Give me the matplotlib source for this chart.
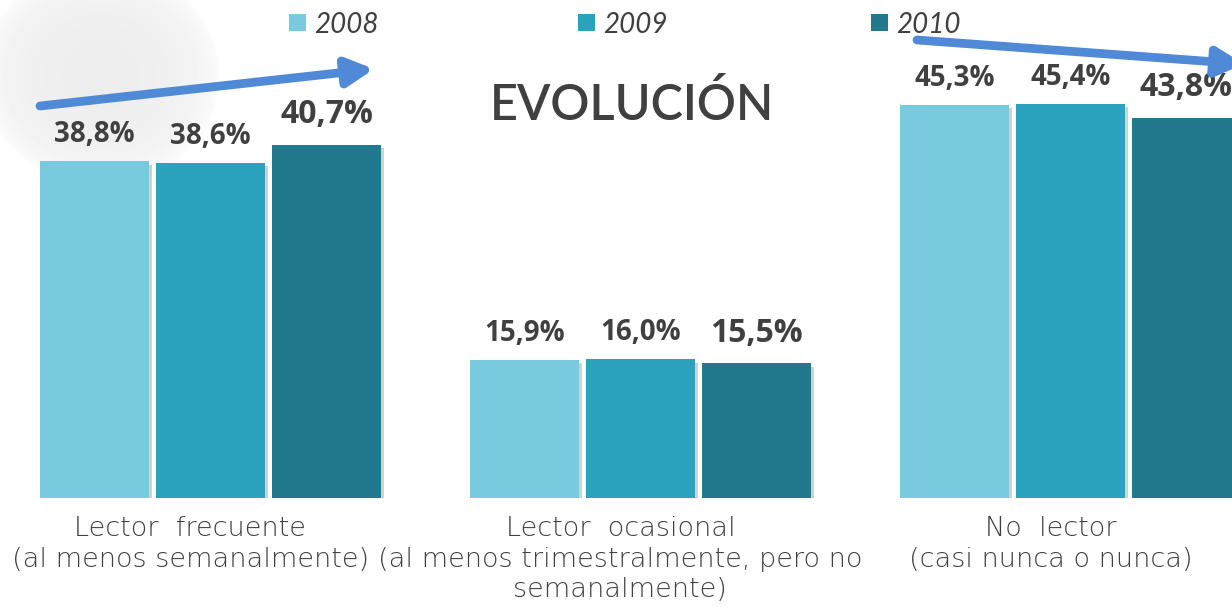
import numpy as np
import matplotlib
matplotlib.use('Agg')
import matplotlib.pyplot as plt
import matplotlib.patheffects as pe
from matplotlib.patches import Rectangle, FancyArrowPatch

# datos
categorias = ['Lector  frecuente\n(al menos semanalmente)',
              'Lector  ocasional\n(al menos trimestralmente, pero no\nsemanalmente)',
              'No  lector\n(casi nunca o nunca)']
anios = ['2008', '2009', '2010']
v2008 = [38.8, 15.9, 45.3]
v2009 = [38.6, 16.0, 45.4]
v2010 = [40.7, 15.5, 43.8]
colores = ['#79C9DF', '#2BA2BE', '#22798D']

gris = '#404040'
azul = '#5089D6'

W, H = 1232, 607
fig = plt.figure(figsize=(W / 100, H / 100), dpi=100)

# fondo gris difuso (decoracion arriba a la izquierda)
bg = fig.add_axes([0, 0, 1, 1], zorder=0)
yy, xx = np.mgrid[0:H, 0:W]
r = ((xx - 100) / 120.0) ** 2 + ((yy - 75) / 110.0) ** 2
niebla = np.clip(1 - r, 0, 1) ** 0.45 * 0.07
bg.imshow(1 - niebla, cmap='gray', vmin=0, vmax=1, extent=[0, W, H, 0], aspect='auto')
bg.set_xlim(0, W)
bg.set_ylim(H, 0)
bg.axis('off')

# ejes: base de las barras en y=498 px
ax = fig.add_axes([0, (H - 498) / H, 1, 498 / H], zorder=1)
ax.patch.set_alpha(0)
escala = 8.68  # px por %
ax.set_ylim(0, 498 / escala)
ax.set_xlim(-210.5 / 430, (W - 210.5) / 430)
ax.axis('off')

x = np.arange(len(categorias))
ancho = 109 / 430
paso = 116 / 430
sombra = [pe.SimplePatchShadow(offset=(2.5, -2.5), shadow_rgbFace='#9a9a9a', alpha=0.45), pe.Normal()]

for i, (vals, col) in enumerate(zip([v2008, v2009, v2010], colores)):
    barras = ax.bar(x + (i - 1) * paso, vals, width=ancho, color=col)
    for b in barras:
        b.set_path_effects(sombra)
    tam = 23 if i == 2 else 20
    dy = 15.5 if i == 2 else 13.5
    for xi, v in zip(x + (i - 1) * paso, vals):
        ax.annotate(f'{v:.1f}%'.replace('.', ','), xy=(xi, v), xytext=(0, dy),
                    textcoords='offset points', ha='center', va='baseline',
                    fontsize=tam, fontweight='bold', color=gris, family='Open Sans')

# etiquetas de categoria
for xi, c in zip(x, categorias):
    ax.annotate(c, xy=(xi, 0), xytext=(-14.5, -13), textcoords='offset points',
                ha='center', va='top', fontsize=19.5, color=gris, family='DejaVu Sans',
                fontweight='light', linespacing=1.28, annotation_clip=False)

# titulo
fig.text(632 / W, 1 - 106 / H, 'EVOLUCIÓN', ha='center', va='center', fontsize=35,
         color=gris, family='Lato', fontweight='semibold')

# leyenda manual
ley_x = [289, 578, 871]
for lx, a, col in zip(ley_x, anios, colores):
    fig.patches.append(Rectangle((lx / W, 1 - 31 / H), 17 / W, 17 / H, transform=fig.transFigure,
                                 facecolor=col, edgecolor='none'))
    fig.text((lx + 25) / W, 1 - 33 / H, a, ha='left', va='baseline', fontsize=20,
             color=gris, family='Lato', style='italic', fontweight='normal')

# flechas de tendencia
for (x0, y0), (x1, y1) in [((40, 106), (374, 69)), ((917, 40), (1244, 64))]:
    fig.add_artist(FancyArrowPatch(
        (x0 / W, 1 - y0 / H), (x1 / W, 1 - y1 / H), transform=fig.transFigure,
        arrowstyle='-|>,head_length=0.8,head_width=0.42', mutation_scale=20,
        lw=6.3, color=azul, shrinkA=0, shrinkB=0, zorder=5))

fig.savefig('out.png', dpi=100)
